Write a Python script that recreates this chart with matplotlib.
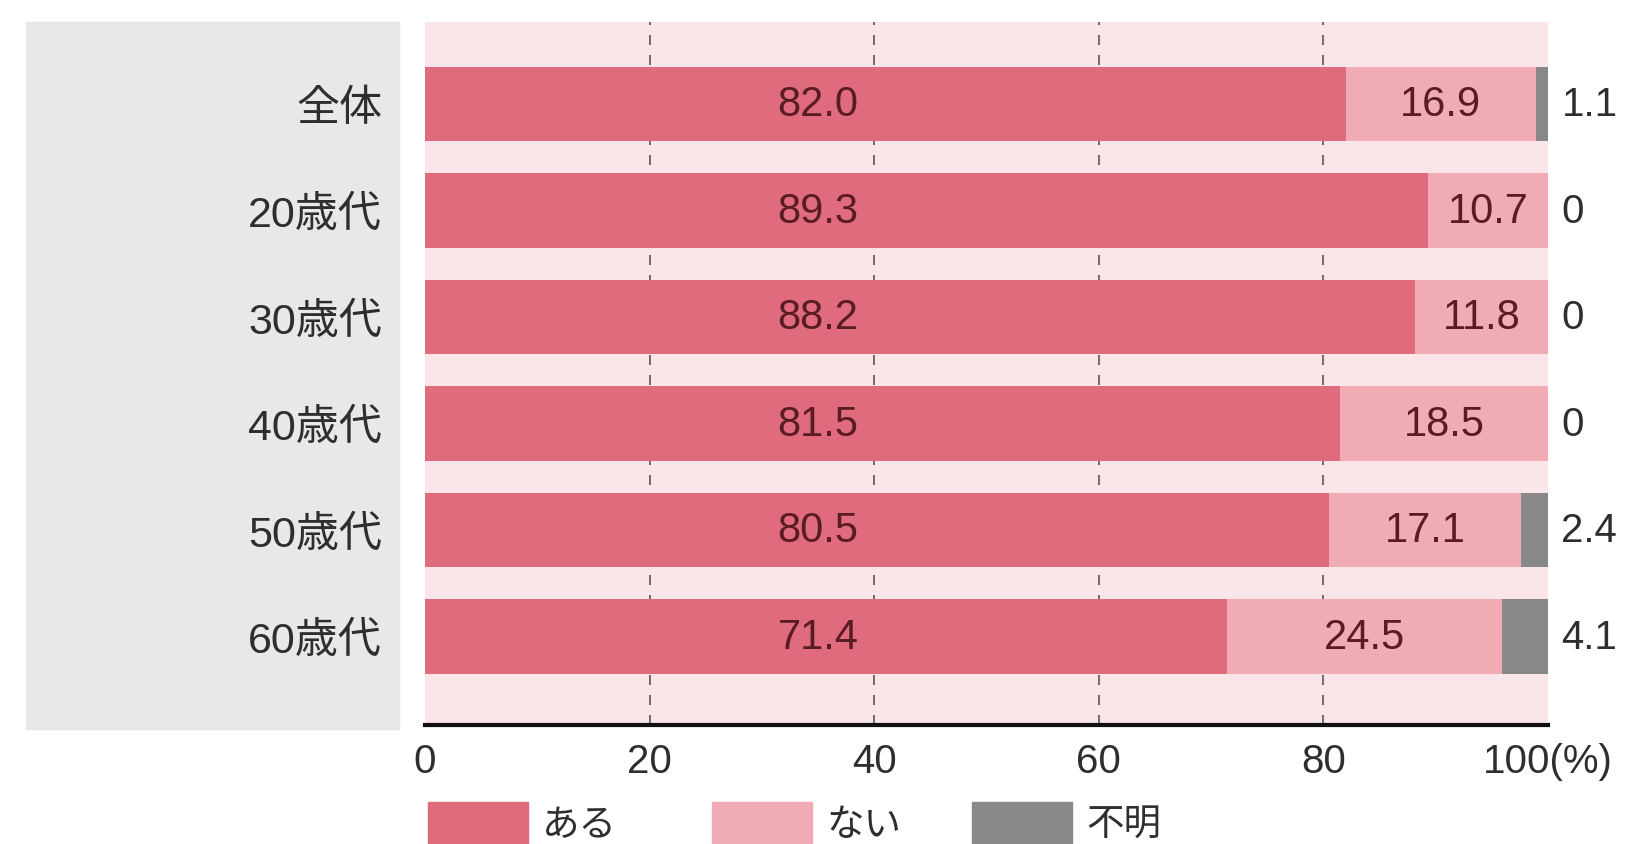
import matplotlib.pyplot as plt
from matplotlib.patches import Rectangle

plt.rcParams['font.family'] = ['Liberation Sans', 'Noto Sans CJK JP', 'DejaVu Sans']

# survey results by age group (%)
groups = ['全体', '20歳代', '30歳代', '40歳代', '50歳代', '60歳代']
yes = [82.0, 89.3, 88.2, 81.5, 80.5, 71.4]
no = [16.9, 10.7, 11.8, 18.5, 17.1, 24.5]
unknown = [1.1, 0, 0, 0, 2.4, 4.1]
series_names = ['ある', 'ない', '不明']
xticks = [0, 20, 40, 60, 80, 100]
xtick_labels = ['0', '20', '40', '60', '80', '100(%)']

c_yes = '#e06b7d'
c_no = '#f0abb5'
c_unk = '#888888'
txt = '#2e2e2e'
in_txt = '#5a1c24'

fig = plt.figure(figsize=(16.46, 8.45), dpi=100)

# grey panel behind the category labels
fig.patches.append(Rectangle((26 / 1646, 1 - 730 / 845), 373 / 1646, 707 / 845,
                             transform=fig.transFigure, color='#e8e8e8', zorder=-1))

ax = fig.add_axes([425 / 1646, 1 - 726 / 845, 1123 / 1646, 703 / 845])
ax.set_facecolor('#fae5e9')

y = list(range(len(groups)))
h = 0.70
left_no = [a for a in yes]
left_unk = [a + b for a, b in zip(yes, no)]
ax.barh(y, yes, height=h, color=c_yes, zorder=2)
ax.barh(y, no, left=left_no, height=h, color=c_no, zorder=2)
ax.barh(y, unknown, left=left_unk, height=h, color=c_unk, zorder=2)

for i in y:
    ax.text(35, i, f'{yes[i]:.1f}', ha='center', va='center',
            fontsize=30, color=in_txt, zorder=3)
    ax.text(yes[i] + no[i] / 2, i, f'{no[i]:.1f}', ha='center', va='center',
            fontsize=30, color=in_txt, zorder=3)
    u = unknown[i]
    ax.text(101.2, i, f'{u:.1f}' if u else '0', ha='left', va='center',
            fontsize=29, color=txt, clip_on=False)

ax.set_xlim(0, 100)
ax.set_ylim(5.83, -0.77)
ax.set_xticks(xticks)
ax.set_xticklabels(xtick_labels, fontsize=29, color=txt)
ax.set_yticks(y)
ax.set_yticklabels(groups, fontsize=31, color=txt)
ax.tick_params(axis='both', length=0)
ax.tick_params(axis='x', pad=12)
ax.tick_params(axis='y', pad=31)

for x in xticks[1:-1]:
    ax.axvline(x, color='#555555', linestyle=(0, (6, 6)), linewidth=1.2, zorder=1)

for s in ['top', 'right', 'left']:
    ax.spines[s].set_visible(False)
ax.spines['bottom'].set_linewidth(3)
ax.spines['bottom'].set_color('#111111')

# legend boxes along the bottom edge
legend_x = [428, 712, 972]
for name, col, lx in zip(series_names, [c_yes, c_no, c_unk], legend_x):
    fig.patches.append(Rectangle((lx / 1646, -0.02), 100 / 1646, 1 - 803 / 845 + 0.02,
                                 transform=fig.transFigure, color=col))
    fig.text((lx + 114) / 1646, 1 - 826 / 845, name, fontsize=27, color=txt,
             ha='left', va='center')

fig.savefig('out.png', dpi=100)
